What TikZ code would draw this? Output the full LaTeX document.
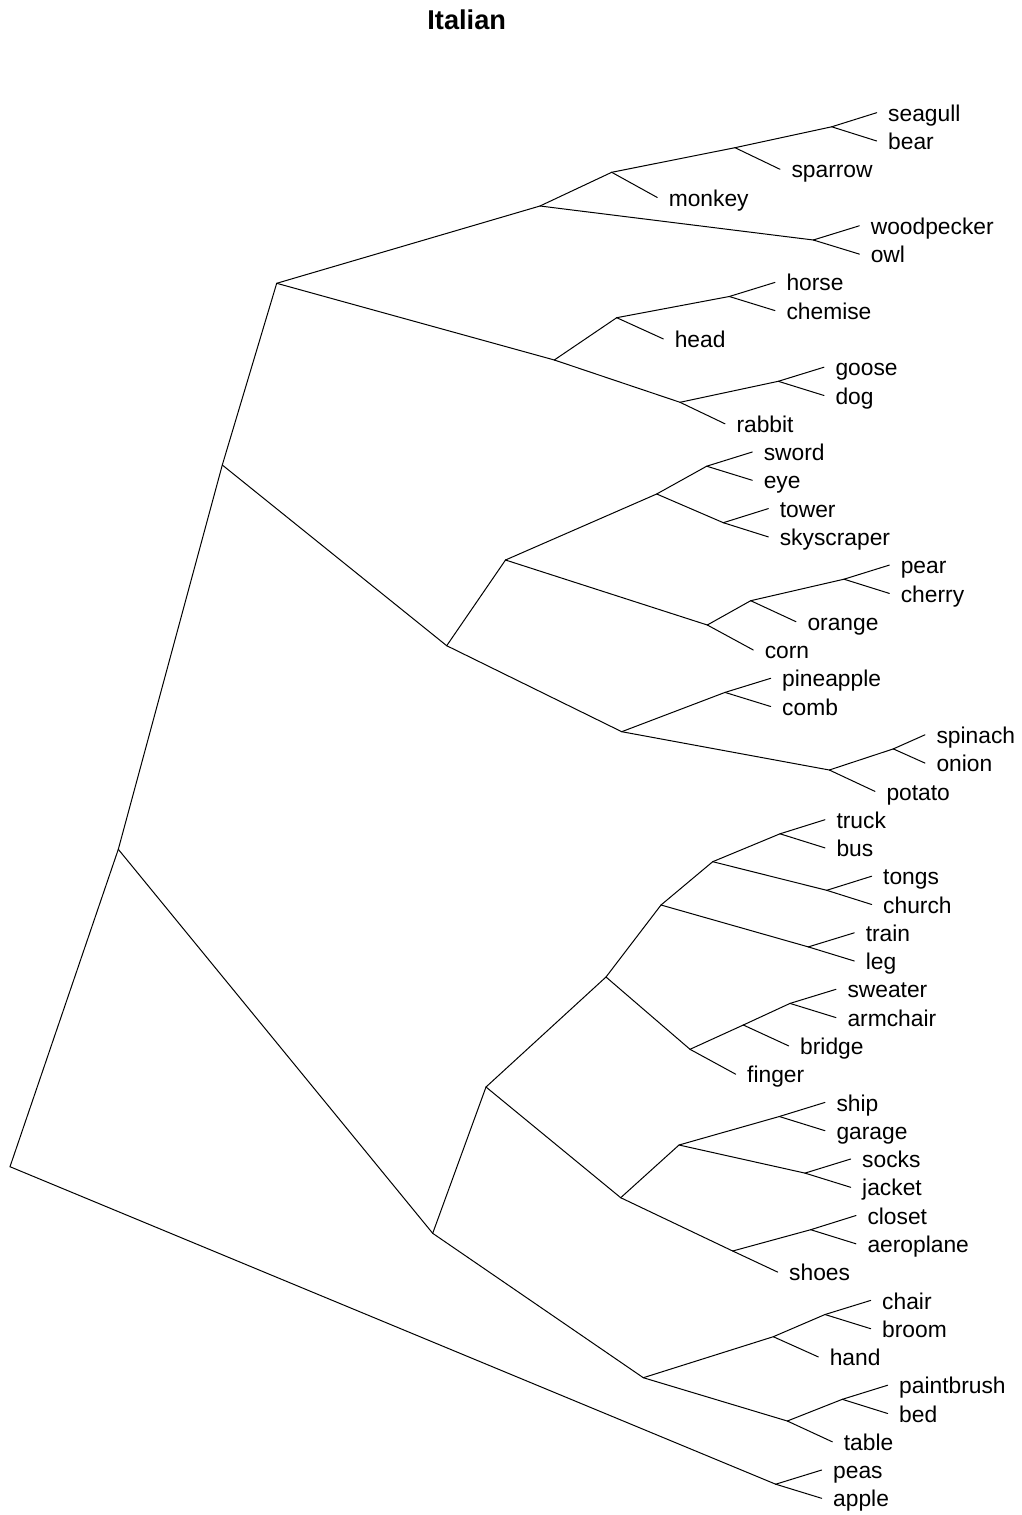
\documentclass[tikz,border=0pt]{standalone}
\usepackage{fontspec}
\setmainfont{Liberation Sans}
\begin{document}
\begin{tikzpicture}[x=0.75pt,y=-0.75pt,
  edge/.style={draw=black,line width=0.75pt,line cap=round,line join=round},
  lab/.style={anchor=base west,inner sep=0pt,outer sep=0pt,font=\fontsize{17.1}{20}\selectfont},
  ttl/.style={anchor=base,inner sep=0pt,font=\fontsize{20.4}{24}\selectfont\bfseries}]
\useasboundingbox (0,0) rectangle (1021,1515);
\node[ttl] (title) at (466.7,29.3) {Italian};
% leaves
\foreach \n/\x/\y in {
 seagull/876.7/112.7, bear/876.7/141.0, sparrow/780/169.3, monkey/657.3/197.5,
 woodpecker/859.3/225.8, owl/859.3/254.1, horse/775/282.4, chemise/775/310.6,
 head/663.3/338.9, goose/824/367.2, dog/824/395.5, rabbit/725/423.8,
 sword/752.3/452.0, eye/752.3/480.3, tower/768.3/508.6, skyscraper/768.3/536.9,
 pear/889.3/565.1, cherry/889.3/593.4, orange/796/621.7, corn/753.3/650.0,
 pineapple/770.7/678.3, comb/770.7/706.5, spinach/925/734.8, onion/925/763.1,
 potato/875/791.4, truck/825/819.7, bus/825/847.9, tongs/871.7/876.2,
 church/871.7/904.5, train/854.3/932.8, leg/854.3/961.0, sweater/836/989.3,
 armchair/836/1017.6, bridge/788.7/1045.9, finger/735.7/1074.2, ship/825/1102.4,
 garage/825/1130.7, socks/850.7/1159.0, jacket/850.7/1187.3, closet/856/1215.5,
 aeroplane/856/1243.8, shoes/777.7/1272.1, chair/870.7/1300.4, broom/870.7/1328.7,
 hand/818.3/1356.9, paintbrush/887.7/1385.2, bed/887.7/1413.5, table/832.3/1441.8,
 peas/821.7/1470.0, apple/821.7/1498.3}
{
  \coordinate (\n) at (\x,\y);
  \node[lab] (l\n) at (\x+11.5,\y+8.6) {\n};
}
% internal nodes
\foreach \n/\x/\y in {
 n1/10/1166.7, n2/118.3/849.3, n3/222.3/465, n4/276.7/283.3, n5/540/206,
 n6/611.7/172.3, n7/735/147.7, n8/831.7/126.8, n9/813.3/240, n10/554.3/360,
 n11/616.7/317.7, n12/729.3/296.5, n13/680/402.3, n14/778.3/381.3, n15/446.7/645.7,
 n16/505.5/560, n17/656.7/494, n18/706.7/466.2, n19/723.3/522.7, n20/707.3/625,
 n21/750.7/600.7, n22/844/579.2, n23/621.7/731.7, n24/725/692.4, n25/829.3/770,
 n26/893.3/748.9, n27/432.7/1233.3, n28/486/1087, n29/606/977, n30/661/905,
 n31/712.7/861.7, n32/780/833.8, n33/826.7/890.3, n34/808.3/946.9, n35/690/1049.3,
 n36/743.3/1025, n37/790/1003.4, n38/620.7/1197.7, n39/679/1145, n40/779.3/1116.5,
 n41/805/1173.1, n42/732.7/1251, n43/810.7/1229.7, n44/643.3/1377.7, n45/773.3/1336.7,
 n46/825/1314.5, n47/787.3/1421, n48/842.3/1399.3, n49/775.7/1484.2}
{
  \coordinate (\n) at (\x,\y);
}
% edges
\foreach \a/\b in {
 n1/n2, n1/n49, n2/n3, n2/n27, n3/n4, n3/n15, n4/n5, n4/n10,
 n5/n6, n5/n9, n6/n7, n6/monkey, n7/n8, n7/sparrow, n8/seagull, n8/bear,
 n9/woodpecker, n9/owl, n10/n11, n10/n13, n11/n12, n11/head, n12/horse, n12/chemise,
 n13/n14, n13/rabbit, n14/goose, n14/dog, n15/n16, n15/n23, n16/n17, n16/n20,
 n17/n18, n17/n19, n18/sword, n18/eye, n19/tower, n19/skyscraper,
 n20/n21, n20/corn, n21/n22, n21/orange, n22/pear, n22/cherry,
 n23/n24, n23/n25, n24/pineapple, n24/comb, n25/n26, n25/potato, n26/spinach, n26/onion,
 n27/n28, n27/n44, n28/n29, n28/n38, n29/n30, n29/n35, n30/n31, n30/n34,
 n31/n32, n31/n33, n32/truck, n32/bus, n33/tongs, n33/church, n34/train, n34/leg,
 n35/n36, n35/finger, n36/n37, n36/bridge, n37/sweater, n37/armchair,
 n38/n39, n38/n42, n39/n40, n39/n41, n40/ship, n40/garage, n41/socks, n41/jacket,
 n42/n43, n42/shoes, n43/closet, n43/aeroplane, n44/n45, n44/n47,
 n45/n46, n45/hand, n46/chair, n46/broom, n47/n48, n47/table,
 n48/paintbrush, n48/bed, n49/peas, n49/apple}
{
  \draw[edge] (\a) -- (\b);
}
\end{tikzpicture}
\end{document}
